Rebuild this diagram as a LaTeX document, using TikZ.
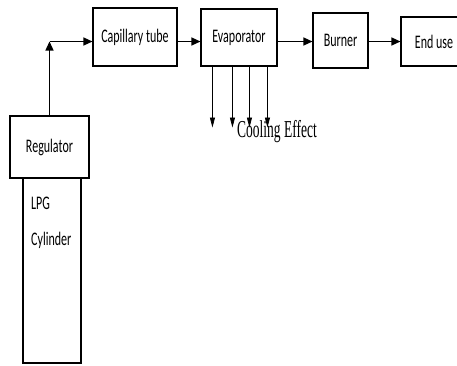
\documentclass[tikz,border=0pt]{standalone}
\usepackage{graphicx}
\usepackage{fontspec}
\setmainfont{Carlito}
\newfontfamily\coolfont{Liberation Serif}
\usetikzlibrary{arrows.meta,positioning}
\newcommand{\boxtext}[1]{\scalebox{1}[1.6]{#1}}

\begin{document}
\begin{tikzpicture}[x=1pt, y=-1pt,
    block/.style={draw, line width=1.1pt, font=\fontsize{12}{14}\selectfont, inner sep=2pt},
    tag/.style={font=\fontsize{12}{14}\selectfont, inner sep=2pt},
    flow/.style={line width=1.3pt, -{Triangle[length=9pt,width=8pt]}},
    coolarrow/.style={line width=0.8pt, -{Triangle[length=10pt,width=5pt]}}]
    \clip (0,0) rectangle (457,365);

    % gas line
    \node[block, minimum width=84pt, minimum height=58pt] (cap) at (135,37) {\boxtext{Capillary tube}};
    \node[block, minimum width=76pt, minimum height=57pt] (evap) at (239,37.5) {\boxtext{Evaporator}};
    \node[block, minimum width=55pt, minimum height=55pt] (burner) at (340.5,40.5) {\boxtext{Burner}};
    \node[block, minimum width=66pt, minimum height=49pt] (enduse) at (434,41.5) {\boxtext{End use}};

    % supply
    \node[block, minimum width=79pt, minimum height=62pt] (reg) at (49.5,147) {\boxtext{Regulator}};
    \node[block, minimum width=58pt, minimum height=185pt] (cyl) at (52,270.5) {};
    \node[tag, anchor=west] (lpg) at (29,203) {\boxtext{LPG}};
    \node[tag, anchor=west] (cyltag) at (29,240) {\boxtext{Cylinder}};

    \coordinate (level) at (0,41.5);
    \coordinate (bend) at (reg.north |- level);
    \draw[flow] (reg) -- (bend);
    \draw[flow] (bend) -- (cap.west |- level);
    \draw[flow] (cap.east |- level) -- (evap.west |- level);
    \draw[flow] (evap.east |- level) -- (burner.west |- level);
    \draw[flow] (burner.east |- level) -- (enduse.west |- level);

    % cooling
    \foreach \dx in {12,32,49,67} {
      \draw[coolarrow] ([xshift=\dx pt]evap.south west) -- ++(0,61);
    }
    \node[inner sep=0pt, font=\coolfont\fontsize{13.5}{15}\selectfont] (cool) at (277,132) {\scalebox{1}[1.8]{Cooling Effect}};
\end{tikzpicture}
\end{document}
